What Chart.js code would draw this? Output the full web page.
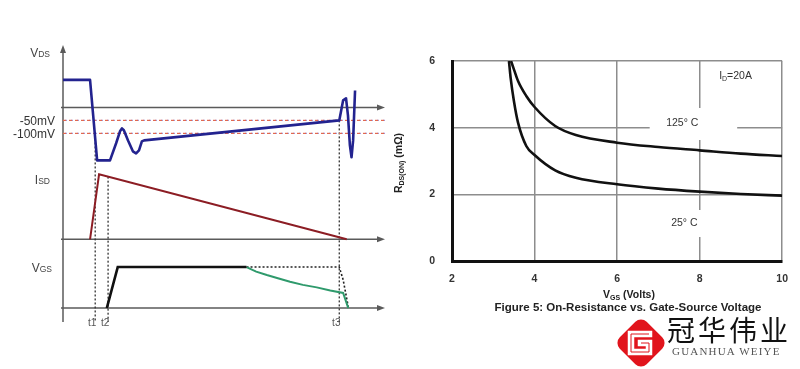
<!DOCTYPE html>
<html>
<head>
<meta charset="utf-8">
<title>Body diode conduction and RDS(on) vs VGS</title>
<script src="https://cdn.jsdelivr.net/npm/chart.js@4.4.1/dist/chart.umd.min.js"></script>
<style>
  html, body { margin: 0; padding: 0; background: #fff; }
  body { width: 800px; height: 369px; position: relative; overflow: hidden; }
  #wave { position: absolute; left: 0; top: 0; }
  #rds { position: absolute; left: 385px; top: 0; }
  .mark { position: absolute; left: 615px; top: 316px; }
  .cn { position: absolute; left: 667px; top: 315px; font: 28px/1 "Noto Sans CJK SC", sans-serif; letter-spacing: 3px; color: #111; }
  .en { position: absolute; left: 672px; top: 346px; font: 11px/1 "Liberation Serif", serif; letter-spacing: 1.2px; color: #555; }
</style>
</head>
<body>
<canvas id="wave" width="390" height="340"></canvas>
<canvas id="rds" width="415" height="369"></canvas>
<svg class="mark" width="52" height="54">
  <rect x="7" y="8" width="38" height="38" rx="8" ry="8" fill="#e1141c" transform="rotate(45 26 27)"/>
  <polyline points="34,18 16,18 16,36 34,36 34,27 26,27" fill="none" stroke="#fff" stroke-width="6.5" stroke-linecap="square" stroke-linejoin="miter"/>
  <polyline points="34,18 16,18 16,36 34,36 34,27 26,27" fill="none" stroke="#e1141c" stroke-width="1" stroke-linejoin="miter"/>
</svg>
<div class="cn">冠华伟业</div>
<div class="en">GUANHUA WEIYE</div>

<script>
// ---- left: diode conduction waveforms (time in arbitrary units, 0 at the vertical axis) ----
var vdsTime = [0, 8.4, 10.6, 14.6, 16.5, 17.7, 18.3, 18.9, 20.2, 21.7, 22.7, 23.6, 24.5, 25.2, 85.8, 87.0, 87.9, 88.5, 89.1, 89.6, 90.1, 90.7];
var vdsMv   = [106, 106, -204, -204, -138, -92, -81, -88, -127, -169, -177, -165, -131, -127, -50, 27, 35, -31, -146, -192, -127, 65];
var isdTime = [8.4, 11.2, 88.1];
var isdAmp  = [0, 10, 0];
var vgsTime = [13.6, 17.0, 57.0];
var vgsVolt = [0, 10, 10];
var vgsIdealTime = [57.0, 85.8, 87.0, 88.6];
var vgsIdealVolt = [10, 10, 6.9, 0.3];
var vgsDropTime = [57.0, 60.0, 63.3, 67.0, 70.5, 74.5, 78.8, 83.0, 87.0, 88.6];
var vgsDropVolt = [10, 8.9, 8.05, 7.2, 6.4, 5.66, 5.05, 4.3, 3.7, 0];
var refLevels = [-50, -100];
var refLabels = ['-50mV', '-100mV'];
var tMarks = [10, 14, 85.8];
var tNames = ['t1', 't2', 't3'];

// ---- right: RDS(on) vs VGS, ID = 20A ----
var vgs125 = [3.43, 3.5, 3.6, 3.8, 4.0, 4.5, 5, 6, 7, 8, 9, 10];
var rds125 = [6.0, 5.75, 5.4, 4.95, 4.62, 4.05, 3.78, 3.55, 3.42, 3.32, 3.22, 3.15];
var vgs25  = [3.38, 3.42, 3.5, 3.6, 3.8, 4.0, 4.5, 5, 6, 7, 8, 9, 10];
var rds25  = [6.0, 5.5, 4.8, 4.15, 3.45, 3.18, 2.72, 2.5, 2.3, 2.17, 2.08, 2.01, 1.96];
var xTicks = [2, 4, 6, 8, 10];
var yTicks = [0, 2, 4, 6];

function pts(xs, ys) {
  return xs.map(function (x, i) { return {x: x, y: ys[i]}; });
}

function valueAt(xs, ys, t) {
  for (var i = 1; i < xs.length; i++) {
    if (t <= xs[i]) return ys[i - 1] + (ys[i] - ys[i - 1]) * (t - xs[i - 1]) / (xs[i] - xs[i - 1]);
  }
  return ys[ys.length - 1];
}

// draws text pieces side by side (used for subscripts)
function richText(ctx, parts, x, y, align) {
  var w = 0;
  parts.forEach(function (p) { ctx.font = p.font; p.w = ctx.measureText(p.text).width; w += p.w; });
  var cx = align === 'right' ? x - w : (align === 'center' ? x - w / 2 : x);
  ctx.textAlign = 'left';
  ctx.textBaseline = 'alphabetic';
  parts.forEach(function (p) {
    ctx.font = p.font;
    ctx.fillText(p.text, cx, y + (p.dy || 0));
    cx += p.w;
  });
}

var SANS = '"Liberation Sans", Arial, sans-serif';

var waveDecor = {
  id: 'waveDecor',
  beforeDatasetsDraw: function (chart) {
    var ctx = chart.ctx, a = chart.chartArea, s = chart.scales;
    ctx.save();
    ctx.strokeStyle = '#5a5a5a';
    ctx.fillStyle = '#5a5a5a';
    ctx.lineWidth = 1.5;
    // vertical axis with arrow
    ctx.beginPath();
    ctx.moveTo(a.left, a.top + 4);
    ctx.lineTo(a.left, a.bottom);
    ctx.stroke();
    ctx.beginPath();
    ctx.moveTo(a.left, a.top);
    ctx.lineTo(a.left - 3, a.top + 8);
    ctx.lineTo(a.left + 3, a.top + 8);
    ctx.closePath();
    ctx.fill();
    // zero lines of each trace
    ['yVds', 'yIsd', 'yVgs'].forEach(function (id) {
      var y = s[id].getPixelForValue(0);
      ctx.beginPath();
      ctx.moveTo(a.left - 2, y);
      ctx.lineTo(a.right - 5, y);
      ctx.stroke();
      ctx.beginPath();
      ctx.moveTo(a.right, y);
      ctx.lineTo(a.right - 8, y - 3);
      ctx.lineTo(a.right - 8, y + 3);
      ctx.closePath();
      ctx.fill();
    });
    // t1, t2, t3 markers
    var tops = [
      s.yVds.getPixelForValue(valueAt(vdsTime, vdsMv, tMarks[0])),
      s.yIsd.getPixelForValue(valueAt(isdTime, isdAmp, tMarks[1])),
      s.yVds.getPixelForValue(valueAt(vdsTime, vdsMv, tMarks[2]))
    ];
    ctx.setLineDash([2, 2]);
    ctx.strokeStyle = '#333';
    ctx.lineWidth = 1.3;
    tMarks.forEach(function (t, i) {
      var x = s.x.getPixelForValue(t);
      ctx.beginPath();
      ctx.moveTo(x, tops[i]);
      ctx.lineTo(x, a.bottom);
      ctx.stroke();
    });
    ctx.restore();
  },
  afterDraw: function (chart) {
    var ctx = chart.ctx, a = chart.chartArea, s = chart.scales;
    ctx.save();
    ctx.fillStyle = '#444';
    var big = '12px ' + SANS, small = '8.5px ' + SANS;
    richText(ctx, [{text: 'V', font: big}, {text: 'DS', font: small}], a.left - 13, a.top + 12, 'right');
    richText(ctx, [{text: 'I', font: big}, {text: 'SD', font: small}], a.left - 13, s.yIsd.getPixelForValue(10) + 10, 'right');
    richText(ctx, [{text: 'V', font: big}, {text: 'GS', font: small}], a.left - 11, s.yVgs.getPixelForValue(10) + 5, 'right');
    ctx.fillStyle = '#333';
    ctx.font = '12px ' + SANS;
    ctx.textAlign = 'right';
    ctx.textBaseline = 'middle';
    refLevels.forEach(function (v, i) {
      ctx.fillText(refLabels[i], a.left - 8, s.yVds.getPixelForValue(v) + 1);
    });
    ctx.fillStyle = '#555';
    ctx.font = '10px ' + SANS;
    ctx.textAlign = 'center';
    tMarks.forEach(function (t, i) {
      ctx.fillText(tNames[i], s.x.getPixelForValue(t) - 3, a.bottom + 1);
    });
    ctx.restore();
  }
};

var waveChart = new Chart(document.getElementById('wave'), {
  type: 'line',
  data: {
    datasets: [
      {label: 'VDS', data: pts(vdsTime, vdsMv), yAxisID: 'yVds', borderColor: '#23238f', borderWidth: 2.6, borderJoinStyle: 'round'},
      {label: 'ISD', data: pts(isdTime, isdAmp), yAxisID: 'yIsd', borderColor: '#8c1d24', borderWidth: 2},
      {label: 'VGS', data: pts(vgsTime, vgsVolt), yAxisID: 'yVgs', borderColor: '#111', borderWidth: 2.6},
      {label: 'VGS drop', data: pts(vgsDropTime, vgsDropVolt), yAxisID: 'yVgs', borderColor: '#2f9a6c', borderWidth: 2},
      {label: 'VGS ideal', data: pts(vgsIdealTime, vgsIdealVolt), yAxisID: 'yVgs', borderColor: '#222', borderWidth: 1.6, borderDash: [2, 2]},
      {label: '-50mV', data: pts([0, 100], [refLevels[0], refLevels[0]]), yAxisID: 'yVds', borderColor: '#e2684e', borderWidth: 1.2, borderDash: [3, 3]},
      {label: '-50mV b', data: pts([0, 100], [refLevels[0], refLevels[0]]), yAxisID: 'yVds', borderColor: '#a994d6', borderWidth: 1.2, borderDash: [2, 4], borderDashOffset: 4},
      {label: '-100mV', data: pts([0, 100], [refLevels[1], refLevels[1]]), yAxisID: 'yVds', borderColor: '#e2684e', borderWidth: 1.2, borderDash: [3, 3]},
      {label: '-100mV b', data: pts([0, 100], [refLevels[1], refLevels[1]]), yAxisID: 'yVds', borderColor: '#a994d6', borderWidth: 1.2, borderDash: [2, 4], borderDashOffset: 4}
    ]
  },
  options: {
    responsive: false,
    animation: false,
    events: [],
    elements: {point: {radius: 0}, line: {tension: 0, fill: false}},
    layout: {autoPadding: false, padding: {left: 63, right: 5, top: 45, bottom: 18}},
    scales: {
      x: {type: 'linear', min: 0, max: 100, display: false},
      yVds: {type: 'linear', position: 'left', stack: 'wave', stackWeight: 119.6, weight: 3, min: -220, max: 240, display: false},
      yIsd: {type: 'linear', position: 'left', stack: 'wave', stackWeight: 87.75, weight: 2, min: -2, max: 11.5, display: false},
      yVgs: {type: 'linear', position: 'left', stack: 'wave', stackWeight: 69.7, weight: 1, min: -3.4, max: 13.6, display: false}
    },
    plugins: {legend: {display: false}, tooltip: {enabled: false}}
  },
  plugins: [waveDecor]
});

var rdsDecor = {
  id: 'rdsDecor',
  beforeDatasetsDraw: function (chart) {
    var ctx = chart.ctx, x = chart.scales.x, y = chart.scales.y;
    ctx.save();
    ctx.fillStyle = '#fff';
    var boxes = [[6.79, 8.91, 4.59, 3.63], [7.03, 8.28, 1.53, 0.72]];
    boxes.forEach(function (b) {
      var l = x.getPixelForValue(b[0]), r = x.getPixelForValue(b[1]);
      var t = y.getPixelForValue(b[2]), bt = y.getPixelForValue(b[3]);
      ctx.fillRect(l, t, r - l, bt - t);
    });
    ctx.fillStyle = '#333';
    ctx.font = '10.5px ' + SANS;
    ctx.textAlign = 'center';
    ctx.textBaseline = 'middle';
    ctx.fillText('125° C', x.getPixelForValue(7.58), y.getPixelForValue(4.14));
    ctx.fillText('25° C', x.getPixelForValue(7.63), y.getPixelForValue(1.14));
    richText(ctx, [
      {text: 'I', font: '10.5px ' + SANS},
      {text: 'D', font: '7px ' + SANS, dy: 2},
      {text: '=20A', font: '10.5px ' + SANS}
    ], x.getPixelForValue(8.87), y.getPixelForValue(5.58) + 4, 'center');
    ctx.restore();
  },
  afterDraw: function (chart) {
    var ctx = chart.ctx, a = chart.chartArea;
    ctx.save();
    ctx.fillStyle = '#222';
    var b10 = 'bold 10.5px ' + SANS, b7 = 'bold 7px ' + SANS;
    // x title
    richText(ctx, [{text: 'V', font: b10}, {text: 'GS', font: b7, dy: 2}, {text: ' (Volts)', font: b10}],
      a.left + 177, a.bottom + 37, 'center');
    // caption
    ctx.font = 'bold 11.5px ' + SANS;
    ctx.textAlign = 'center';
    ctx.textBaseline = 'middle';
    ctx.fillText('Figure 5: On-Resistance vs. Gate-Source Voltage', a.left + 176, a.bottom + 47);
    // y title
    ctx.translate(a.left - 54, (a.top + a.bottom) / 2 + 2);
    ctx.rotate(-Math.PI / 2);
    richText(ctx, [{text: 'R', font: b10}, {text: 'DS(ON)', font: b7, dy: 2}, {text: ' (mΩ)', font: b10}], 0, 4, 'center');
    ctx.restore();
  }
};

var rdsChart = new Chart(document.getElementById('rds'), {
  type: 'line',
  data: {
    datasets: [
      {label: '125° C', data: pts(vgs125, rds125), borderColor: '#111', borderWidth: 2.6, cubicInterpolationMode: 'monotone'},
      {label: '25° C', data: pts(vgs25, rds25), borderColor: '#111', borderWidth: 2.6, cubicInterpolationMode: 'monotone'}
    ]
  },
  options: {
    responsive: false,
    animation: false,
    events: [],
    elements: {point: {radius: 0}},
    layout: {autoPadding: false, padding: {left: 27, right: 17, top: 61, bottom: 78}},
    scales: {
      x: {
        type: 'linear', min: 2, max: 10,
        afterBuildTicks: function (s) { s.ticks = xTicks.map(function (v) { return {value: v}; }); },
        afterFit: function (s) { s.height = 30; },
        grid: {color: '#8d8d8d', lineWidth: 1.5, drawTicks: false},
        border: {color: '#111', width: 3},
        ticks: {padding: 12, color: '#333', font: {family: SANS, size: 10.5, weight: 'bold'}}
      },
      y: {
        type: 'linear', min: 0, max: 6,
        afterBuildTicks: function (s) { s.ticks = yTicks.map(function (v) { return {value: v}; }); },
        afterFit: function (s) { s.width = 40; },
        grid: {color: '#8d8d8d', lineWidth: 1.5, drawTicks: false},
        border: {color: '#111', width: 3},
        ticks: {padding: 17, color: '#333', font: {family: SANS, size: 10.5, weight: 'bold'}}
      }
    },
    plugins: {legend: {display: false}, tooltip: {enabled: false}}
  },
  plugins: [rdsDecor]
});
</script>
</body>
</html>
